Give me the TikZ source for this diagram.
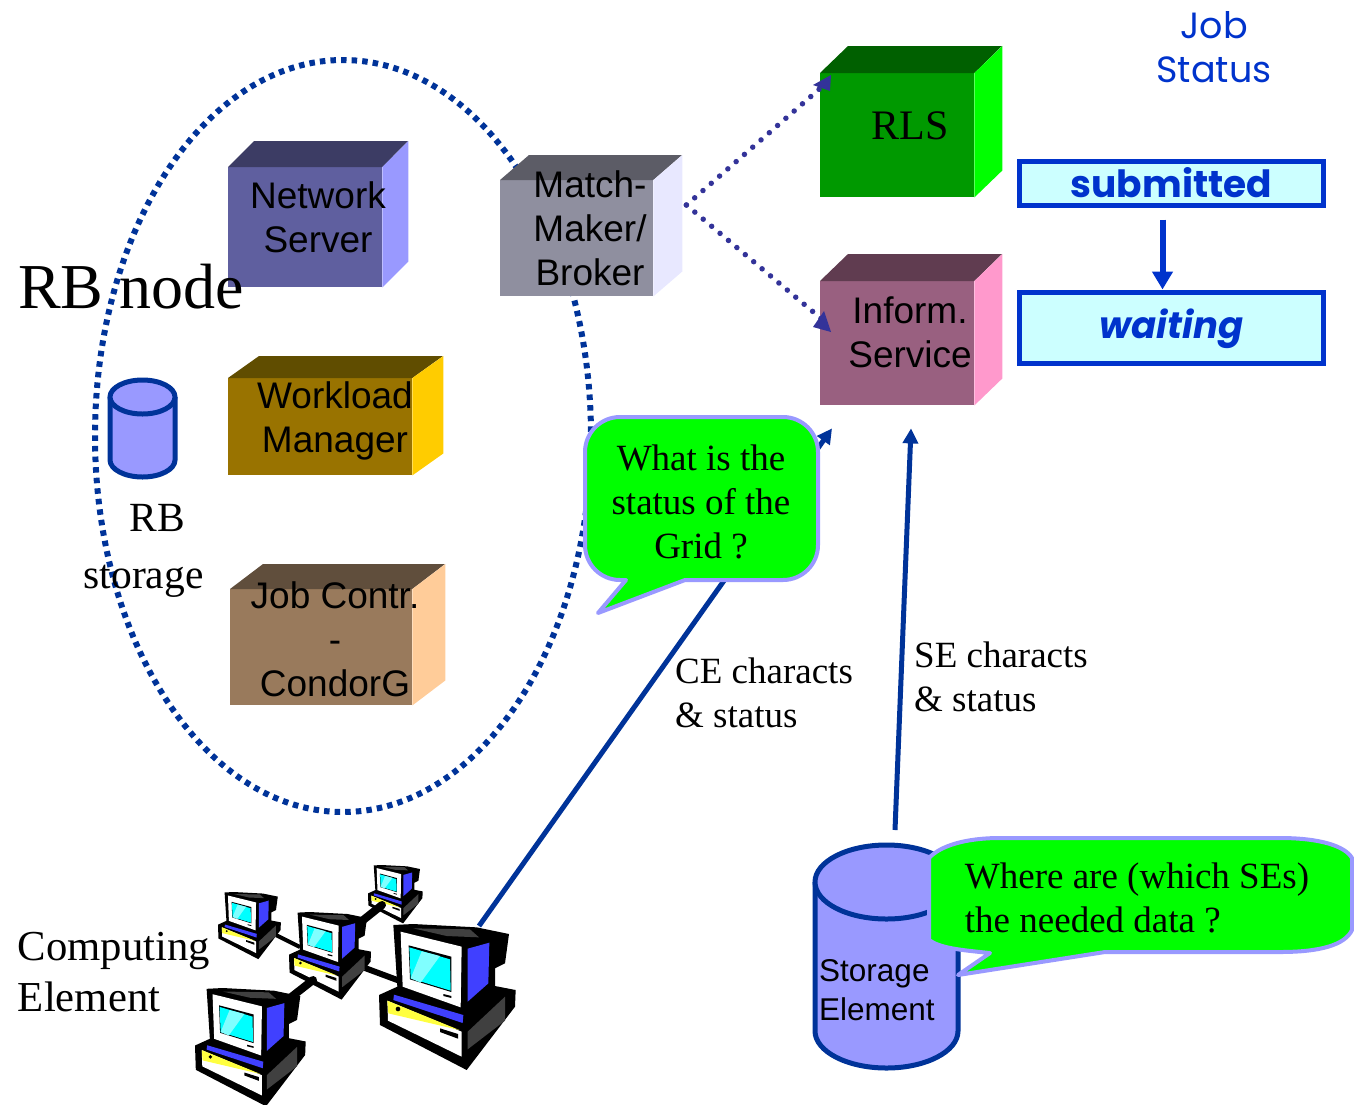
\documentclass[tikz,border=0pt]{standalone}
\usepackage{fontspec}
\setmainfont{Liberation Serif}
\setsansfont{Liberation Sans}
\newfontfamily\comic{Poppins}
\usetikzlibrary{arrows.meta,calc}
\definecolor{dkblue}{HTML}{003399}
\definecolor{dotblue}{HTML}{333399}
\definecolor{lilac}{HTML}{9999FF}
\definecolor{stblue}{HTML}{0033CC}
\definecolor{paleCy}{HTML}{CCFFFF}
\definecolor{scr}{HTML}{00FFFF}
\definecolor{scrL}{HTML}{80FFFF}
\definecolor{pcblue}{HTML}{4040FF}
\definecolor{pcyel}{HTML}{FFFF40}
\definecolor{pcgrey}{HTML}{404040}
\definecolor{nsF}{HTML}{5F5F9F}\definecolor{nsT}{HTML}{3C3C64}
\definecolor{wmF}{HTML}{997300}\definecolor{wmT}{HTML}{604D00}\definecolor{wmS}{HTML}{FFCC00}
\definecolor{jcF}{HTML}{997A5C}\definecolor{jcT}{HTML}{604E3C}\definecolor{jcS}{HTML}{FFCC99}
\definecolor{mmF}{HTML}{8F8F9F}\definecolor{mmT}{HTML}{5C5C66}\definecolor{mmS}{HTML}{E8E8FF}
\definecolor{rlF}{HTML}{009900}\definecolor{rlT}{HTML}{006000}
\definecolor{isF}{HTML}{996080}\definecolor{isT}{HTML}{603C50}\definecolor{isS}{HTML}{FF99CC}
\tikzset{
  sans/.style={font=\sffamily\fontsize{37}{44}\selectfont,align=center,inner sep=0pt},
  serif/.style={font=\fontsize{37}{44}\selectfont,align=left,inner sep=0pt},
  ring/.style={draw=dkblue,line width=6pt,dash pattern=on 5.5pt off 5.1pt},
  dotline/.style={draw=dotblue,line width=5.5pt,line cap=round,dash pattern=on 0pt off 11pt},
  bluearrow/.style={draw=dkblue,line width=5pt,-{Triangle[length=15pt,width=15pt]}},
  callout/.style={draw=lilac,line width=4pt,fill=green,line join=round},
  cyl/.style={draw=dkblue,line width=5pt,fill=lilac},
  statusbox/.style={draw=stblue,line width=5pt,fill=paleCy,inner sep=0pt,anchor=north west},
  linkline/.style={draw=black,line cap=butt},
}
% name, x0, y0, width, height, dx, dy, front, top
\newcommand{\boxthreed}[9]{%
  \node[fill=#8,minimum width=#4pt,minimum height=#5pt,inner sep=0pt,anchor=north west] (#1) at (#2,#3) {};
  \fill[#9] (#1.north west) -- ++(#6,-#7) -- ++(#4,0) -- (#1.north east) -- cycle;
}
\newcommand{\boxside}[4]{% node, dx, dy, colour
  \fill[#4] (#1.north east) -- ++(#2,-#3) -- ($(#1.south east)+(#2,-#3)$) -- (#1.south east) -- cycle;
}
\newcommand{\computer}[4]{% name x y scale
  \begin{scope}[shift={(#2,#3)},scale=#4/3,shift={(-597,-222)}]
    \coordinate (#1) at (800,440);
    \fill[black] (640,225) -- (700,222) -- (890,232) -- (987,252) -- (975,340) -- (945,355) -- (945,408)
      -- (1007,420) -- (1005,470) -- (860,660) -- (600,525) -- (597,435) -- (652,410) -- cycle;
    \fill[white] (662,245) -- (845,290) -- (842,472) -- (668,410) -- cycle;
    \fill[black] (686,286) -- (814,320) -- (814,426) -- (690,388) -- cycle;
    \fill[scr] (688,292) -- (810,328) -- (812,422) -- (692,385) -- cycle;
    \fill[scrL] (725,304) -- (780,318) -- (722,398) -- (692,385) -- cycle;
    \fill[black] (790,432) -- (814,438) -- (814,444) -- (790,438) -- cycle;
    \fill[pcblue] (863,296) -- (928,278) -- (925,400) -- (863,455) -- cycle;
    \fill[pcgrey] (700,235) -- (870,238) -- (897,262) -- (800,258) -- cycle;
    \fill[pcblue] (642,434) -- (850,495) -- (848,519) -- (640,450) -- cycle;
    \fill[white] (622,452) -- (845,545) -- (845,620) -- (624,512) -- cycle;
    \fill[pcyel] (622,452) -- (838,540) -- (625,490) -- cycle;
    \fill[pcgrey] (863,545) -- (975,440) -- (975,512) -- (863,598) -- cycle;
    \fill[black] (780,535) -- (834,552) -- (834,566) -- (780,546) -- cycle;
    \fill[black] (654,477) circle (7);
  \end{scope}
}
\begin{document}
\begin{tikzpicture}[x=1pt,y=-1pt]
\useasboundingbox (0,0) rectangle (1354,1104);

% RB node ring
\draw[ring] (343,436) ellipse [x radius=248,y radius=376];

% Boxes
\boxthreed{ns}{228}{167}{154}{120}{26}{26}{nsF}{nsT}
\boxside{ns}{26}{26}{lilac}
\boxthreed{wm}{228}{378}{184}{97}{31}{22}{wmF}{wmT}
\boxside{wm}{31}{22}{wmS}
\boxthreed{jc}{230}{589}{182}{116}{33}{25}{jcF}{jcT}
\boxside{jc}{33}{25}{jcS}
\boxthreed{mm}{500}{180}{153}{116}{29}{25}{mmF}{mmT}
\boxside{mm}{29}{25}{mmS}
\boxthreed{rls}{820}{73}{154}{124}{28}{27}{rlF}{rlT}
\boxside{rls}{28}{27}{green}
\boxthreed{is}{820}{281}{154}{124}{28}{27}{isF}{isT}
\boxside{is}{28}{27}{isS}

\node[sans] (nstext) at (318,217) {Network\\Server};
\node[sans] (wmtext) at (335,421) {Workload\\Manager};
\node[sans] (jctext) at (335,639) {Job Contr.\\-\\CondorG};
\node[sans] (mmtext) at (590,228.5) {Match-\\Maker/\\Broker};
\node[sans] (istext) at (910,332.5) {Inform.\\Service};
\node[serif,font=\fontsize{42}{44}\selectfont] (rlstext) at (910,126) {RLS};

% Dotted connectors
\coordinate (mmout) at ($(mm.north east)+(33,25)$);
\draw[dotline] (mmout) -- ($(rls.north west)+(4,12)$);
\draw[dotline] (mmout) -- ($(is.north west)+(4,40)$);
\fill[dotblue] ($(rls.north west)+(11,2)$) -- ($(rls.north west)+(-7,12)$) -- ($(rls.north west)+(10,18)$) -- cycle;
\fill[dotblue] ($(is.north west)+(11,51)$) -- ($(is.north west)+(-7,46)$) -- ($(is.north west)+(4,30)$) -- cycle;

% Status connectors (drawn below callouts)
\coordinate (cetop) at ($(is.south west)+(12,23)$);
\coordinate (cebot) at (479,926);
\draw[bluearrow] (cebot) -- (cetop);
\coordinate (setop) at ($(is.south west)+(91,23)$);
\coordinate (sebot) at (895,830);
\draw[bluearrow] (sebot) -- (setop);

% Left labels
\node[serif,font=\fontsize{64}{70}\selectfont,anchor=base west] (rbn) at (18,308) {RB node};
\draw[cyl] (110,397) -- (110,460) arc[start angle=180,end angle=0,x radius=32.5,y radius=17] -- (175,397);
\draw[cyl] (142.5,397) ellipse [x radius=32.5,y radius=17];
\node[serif,font=\fontsize{41.5}{57}\selectfont,align=center] (rbs) at (143.5,551) {\hspace*{27pt}RB\\storage};
\node[serif,font=\fontsize{42.7}{51}\selectfont] (cet) at (114,972) {Computing\\Element};

% Callout 1
\draw[callout] (585,452) arc[start angle=180,end angle=270,radius=35] -- (783,417)
  arc[start angle=270,end angle=360,radius=35] -- (818,545)
  arc[start angle=0,end angle=90,radius=35] -- (685,580) -- (598,613) -- (626,580) -- (620,580)
  arc[start angle=90,end angle=180,radius=35] -- cycle;
\node[serif,align=center] (co1t) at (701,501.5) {What is the\\status of the\\Grid ?};

\node[serif] (cel) at (764,693) {CE characts\\\& status};
\node[serif] (sel) at (1001,677) {SE characts\\\& status};

% Storage cylinder
\draw[cyl] (815,882) -- (815,1031) arc[start angle=180,end angle=0,x radius=71.5,y radius=37] -- (958,882);
\draw[cyl] (886.5,882) ellipse [x radius=71.5,y radius=37];
\node[sans,font=\sffamily\fontsize{31.5}{39}\selectfont,align=left,anchor=west] (setxt) at (819,990.5) {Storage\\Element};

% Callout 2
\draw[callout] (929,858) .. controls (940,846) and (965,838) .. (1000,838) -- (1280,838)
  .. controls (1320,838) and (1345,846) .. (1352,858) -- (1352,930)
  .. controls (1345,945) and (1320,952) .. (1280,952) -- (1105,952) -- (958,975) -- (990,953)
  .. controls (960,950) and (940,948) .. (929,940) -- cycle;
\node[serif] (co2t) at (1137,898) {Where are (which SEs)\\the needed data ?};

% Job status
\node[font=\comic\fontsize{36.5}{44}\selectfont,text=stblue,align=center,inner sep=0pt] (jst) at (1214,47) {Job\\Status};
\node[statusbox,minimum width=304pt,minimum height=44pt,font=\comic\bfseries\fontsize{37.5}{40}\selectfont,text=stblue] (sub) at (1017,158.5) {submitted};
\node[statusbox,minimum width=304pt,minimum height=71pt,font=\comic\bfseries\itshape\fontsize{37}{40}\selectfont,text=stblue,text depth=8pt,text height=30pt] (wai) at (1017,289.5) {waiting};
\draw[draw=stblue,line width=6pt,-{Triangle[length=18pt,width=20pt]}] ($(sub.south)+(-9,12)$) -- ($(wai.north)+(-9,0)$);

% Computers
\coordinate (ptl) at (270,932);
\coordinate (pmA) at (300,947);
\coordinate (pmB) at (365,968);
\coordinate (pbg) at (400,981);
\draw[linkline,line width=4pt] (ptl) -- (pmA);
\draw[linkline,line width=6pt] (pmB) -- (pbg);
\computer{pc1}{218}{892}{0.46}
\computer{pc2}{368}{865}{0.40}
\computer{pc3}{289}{912}{0.6}
\computer{pc4}{379}{924}{1}
\computer{pc5}{195}{988}{0.81}
\coordinate (pmC) at (313,980);
\coordinate (pbl) at (290,998);
\coordinate (pmD) at (382,905);
\coordinate (ptr) at (362,921);
\draw[linkline,line width=8pt,line cap=round] (pmC) -- (pbl);
\draw[linkline,line width=8pt,line cap=round] (pmD) -- (ptr);
\end{tikzpicture}
\end{document}
